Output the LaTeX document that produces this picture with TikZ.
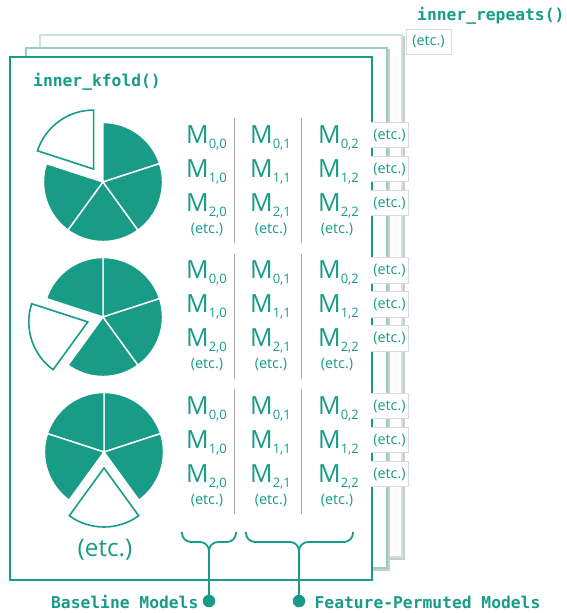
\documentclass[tikz,border=0pt]{standalone}
\usepackage{fontspec}
\setmainfont{Open Sans}
\newfontfamily\codefont{DejaVu Sans Mono}

\definecolor{kteal}{HTML}{189C87}
\definecolor{frametwo}{HTML}{93D0C3}
\definecolor{framethree}{HTML}{CFE2DD}
\definecolor{shadowgray}{HTML}{C8CECC}
\definecolor{boxgray}{HTML}{DADADA}
\definecolor{sepgray}{HTML}{A8A8A8}

% model label with a lowered index
\newcommand\modidx[1]{{\fontsize{13}{14}\selectfont\raisebox{-5pt}{#1}}}

% five-slice pie; the slice starting at angle #3 is pulled out and left open
\newcommand\foldpie[3]{%
  \begin{scope}[shift={(#1,#2)}]
    \foreach \a in {18,90,162,234,306}{
      \pgfmathsetmacro\mid{\a+36}
      \ifdim\a pt=#3pt
        \draw[openslice, shift={(\mid:16)}] (0,0) -- (\a:59)
          arc[start angle=\a, end angle=\a+72, radius=59] -- cycle;
      \else
        \draw[fullslice] (0,0) -- (\a:59.5)
          arc[start angle=\a, end angle=\a+72, radius=59.5] -- cycle;
      \fi
    }
  \end{scope}}

\tikzset{
  modeltext/.style={text=kteal, font=\fontsize{25}{25}\selectfont, inner sep=0, anchor=base west},
  etcsmall/.style={text=kteal, font=\fontsize{14.4}{15}\selectfont, inner sep=0},
  etcbig/.style={text=kteal, font=\fontsize{24.3}{25}\selectfont, inner sep=0},
  etcbox/.style={fill=white, text=kteal, font=\fontsize{14.4}{15}\selectfont,
    minimum width=37, minimum height=25, inner sep=0},
  boxedge/.style={draw=boxgray, line width=0.8pt},
  codetext/.style={text=kteal, font=\codefont\bfseries\fontsize{16.3}{17}\selectfont, inner sep=0},
  frontframe/.style={draw=kteal, fill=white, line width=1.6pt},
  backframe/.style={fill=white, line width=1.6pt},
  shadowline/.style={draw=shadowgray, line width=1.4pt},
  sepline/.style={draw=sepgray, line width=0.9pt},
  fullslice/.style={fill=kteal, draw=white, line width=1.4pt, line join=round},
  openslice/.style={fill=white, draw=kteal, line width=1.6pt, line join=miter},
  bracepath/.style={draw=kteal, line width=1.8pt, rounded corners=9pt},
  enddot/.style={circle, fill=kteal, minimum size=12.5, inner sep=0}
}

\begin{document}
\begin{tikzpicture}[x=1pt, y=1pt]
  \useasboundingbox (0,0) rectangle (566,-613);

  % stacked frames, back to front
  \draw[shadowline] (42,-37) rectangle (404,-559);
  \draw[backframe, draw=framethree] (40,-35) rectangle (402,-557);
  \draw[shadowline] (28,-50) rectangle (389,-570);
  \draw[backframe, draw=frametwo] (26,-48) rectangle (387,-568);
  \draw[frontframe] (10,-57) rectangle (372,-580);

  % titles
  \node[codetext, anchor=base west] (repeats) at (417,-20.5) {inner\_repeats()};
  \node[etcbox, draw=boxgray, line width=0.8pt, minimum width=45] (repeatsetc) at (428.5,-41.5) {(etc.)};
  \node[codetext, anchor=base west] (kfold) at (33,-86) {inner\_kfold()};

  % pies
  \foldpie{103}{-182}{90}
  \foldpie{103}{-317}{162}
  \foldpie{104}{-452}{234}
  \node[etcbig] (pieetc) at (105,-550) {(etc.)};

  % model grids
  \foreach \g in {0,1,2}{
    \pgfmathsetmacro\yb{143+135.5*\g}
    \foreach \r in {0,1,2}{
      \pgfmathsetmacro\yr{\yb+34*\r}
      \foreach \c/\cx in {0/186,1/250,2/318}{
        \node[modeltext] (m\g\r\c) at (\cx,-\yr) {M\modidx{\r,\c}};
      }
      \node[etcbox] (re\g\r) at (389.5,-\yr+8) {(etc.)};
      \draw[boxedge] (re\g\r.north west) -- (re\g\r.north east)
        -- (re\g\r.south east) -- (re\g\r.south west);
    }
    \foreach \c/\cx in {0/207,1/271,2/337}{
      \node[etcsmall] (ce\g\c) at (\cx,-\yb-86) {(etc.)};
    }
    \coordinate (sa\g) at (234,-\yb+25);
    \coordinate (sb\g) at (234,-\yb-100);
    \coordinate (sc\g) at (301,-\yb+25);
    \coordinate (sd\g) at (301,-\yb-100);
    \draw[sepline] (sa\g) -- (sb\g);
    \draw[sepline] (sc\g) -- (sd\g);
  }

  % braces and their labels
  \node[enddot] (dotbase) at (209,-601) {};
  \node[enddot] (dotperm) at (299,-601) {};
  \coordinate (bla) at (182,-532);
  \coordinate (blb) at (236,-532);
  \coordinate (blm) at (209,-542);
  \coordinate (bls) at (209,-560);
  \coordinate (bpa) at (246,-532);
  \coordinate (bpb) at (353,-532);
  \coordinate (bpm) at (299,-542);
  \coordinate (bps) at (299,-560);
  \draw[bracepath] (bla) |- (blm) -- (dotbase.center);
  \draw[bracepath] (blb) |- (blm) -- (bls);
  \draw[bracepath] (bpa) |- (bpm) -- (dotperm.center);
  \draw[bracepath] (bpb) |- (bpm) -- (bps);

  \node[codetext, anchor=base east] (baselabel) at ([xshift=-4pt, yshift=-7.5pt]dotbase.west) {Baseline Models};
  \node[codetext, anchor=base west] (permlabel) at ([xshift=9pt, yshift=-7.5pt]dotperm.east) {Feature-Permuted Models};
\end{tikzpicture}
\end{document}
